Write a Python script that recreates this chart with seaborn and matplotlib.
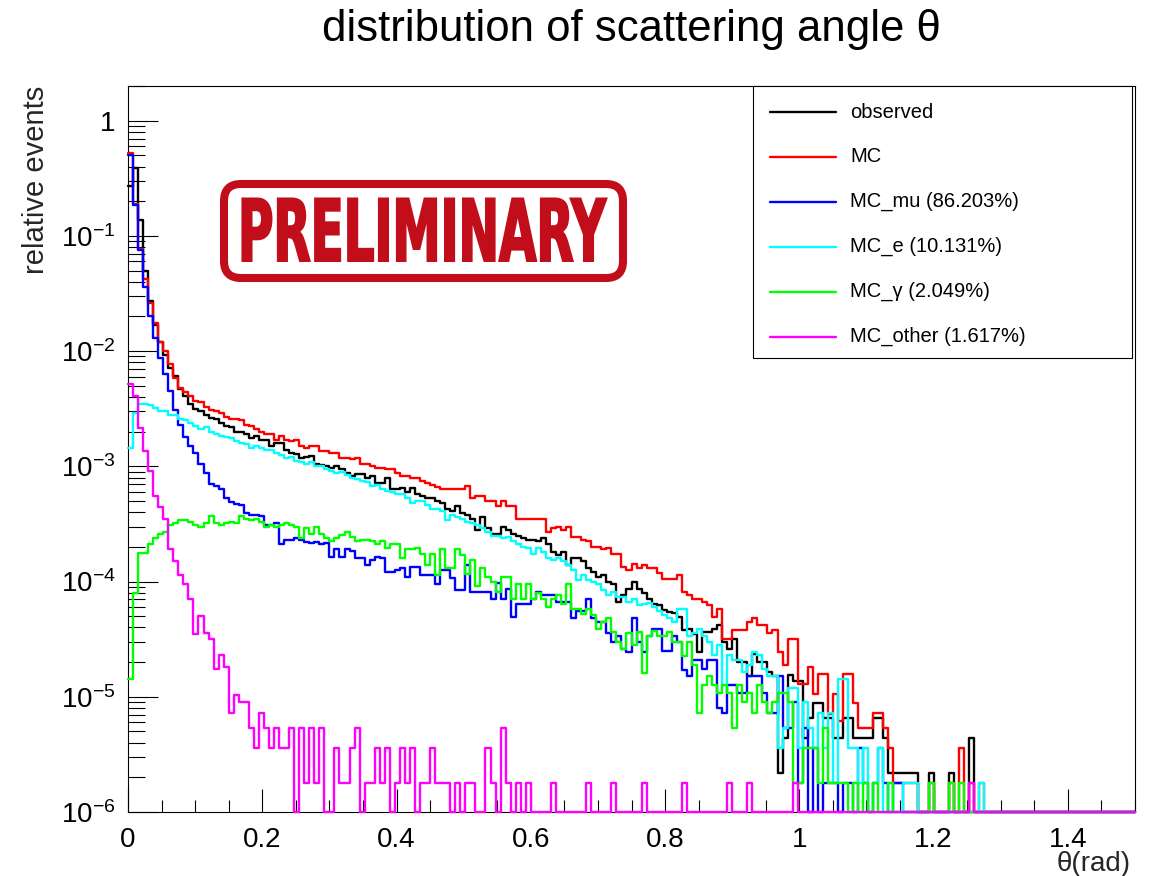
import numpy as np
import pandas as pd
import matplotlib
matplotlib.use("Agg")
import matplotlib.pyplot as plt
import seaborn as sns
from matplotlib import font_manager, ticker
from matplotlib.patches import FancyBboxPatch, Rectangle
from matplotlib.lines import Line2D
from matplotlib.transforms import IdentityTransform, Affine2D
from matplotlib.patheffects import AbstractPathEffect

# ------------------------------------------------------------------ data
theta_min, theta_max, n_bins = 0.0, 1.5, 200
title_text = "distribution of scattering angle \u03b8"
y_title = "relative events"
x_title = "\u03b8(rad)"
series_labels = ["observed", "MC", "MC_mu (86.203%)", "MC_e (10.131%)",
                 "MC_\u03b3 (2.049%)", "MC_other (1.617%)"]
x_tick_values = [0, 0.2, 0.4, 0.6, 0.8, 1.0, 1.2, 1.4]

observed = [
    0.27, 0.39, 0.137, 0.05, 0.027, 0.017, 0.012, 9.2e-3, 7.2e-3, 6.1e-3,
    4.7e-3, 4.1e-3, 3.5e-3, 3.15e-3, 3.05e-3, 2.8e-3, 2.65e-3, 2.6e-3, 2.4e-3, 2.25e-3,
    2.2e-3, 2.0e-3, 2.0e-3, 1.9e-3, 1.77e-3, 1.83e-3, 1.7e-3, 1.7e-3, 1.5e-3, 1.6e-3,
    1.6e-3, 1.4e-3, 1.3e-3, 1.27e-3, 1.18e-3, 1.2e-3, 1.23e-3, 1.05e-3, 1.03e-3, 1.0e-3,
    9.6e-4, 1.0e-3, 9.4e-4, 8.8e-4, 8.3e-4, 8.5e-4, 8.5e-4, 8.0e-4, 8.3e-4, 7.2e-4,
    7.2e-4, 8.0e-4, 6.3e-4, 6.4e-4, 6.5e-4, 6.0e-4, 6.5e-4, 5.7e-4, 5.5e-4, 5.3e-4,
    5.3e-4, 5.0e-4, 4.8e-4, 4.3e-4, 4.1e-4, 4.5e-4, 3.9e-4, 3.8e-4, 3.5e-4, 2.8e-4,
    3.6e-4, 2.9e-4, 2.6e-4, 2.6e-4, 3.0e-4, 2.8e-4, 2.6e-4, 2.5e-4, 2.4e-4, 2.3e-4,
    2.3e-4, 2.25e-4, 2.4e-4, 2.1e-4, 1.8e-4, 1.7e-4, 1.8e-4, 1.4e-4, 1.6e-4, 1.6e-4,
    1.5e-4, 1.3e-4, 1.2e-4, 1.1e-4, 1.14e-4, 1.0e-4, 9.5e-5, 6.6e-5, 7.6e-5, 8.7e-5,
    1.0e-4, 8.7e-5, 7.9e-5, 7.0e-5, 6.4e-5, 6.2e-5, 5.7e-5, 5.4e-5, 5.3e-5, 4.9e-5,
    3.8e-5, 3.9e-5, 3.5e-5, 2.45e-5, 3.65e-5, 3.65e-5, 3.9e-5, 4.2e-5, 3.0e-5, 2.6e-5,
    3.2e-5, 2.0e-5, 2.0e-5, 1.53e-5, 2.35e-5, 2.0e-5, 2.0e-5, 1.64e-5, 1.53e-5, 2.2e-6,
    4.4e-6, 1.55e-5, 1.37e-5, 1.37e-5, 4.4e-6, 6.6e-6, 8.8e-6, 8.8e-6, 6.6e-6, 6.6e-6,
    4.4e-6, 4.4e-6, 6.6e-6, 6.6e-6, 4.4e-6, 4.4e-6, 4.4e-6, 4.4e-6, 6.6e-6, 6.6e-6,
    4.4e-6, 2.2e-6, 2.2e-6, 2.2e-6, 2.2e-6, 2.2e-6, 2.2e-6, 0, 0, 2.2e-6,
    0, 0, 0, 2.2e-6, 0, 0, 0, 4.4e-6, 0, 0,
    0, 0, 0, 0, 0, 0, 0, 0, 0, 0,
    0, 0, 0, 0, 0, 0, 0, 0, 0, 0,
    0, 0, 0, 0, 0, 0, 0, 0, 0, 0,
]

mc = [
    0.52, 0.19, 0.077, 0.042, 0.026, 0.0174, 0.0119, 0.010, 7.7e-3, 5.9e-3,
    4.8e-3, 4.4e-3, 4.1e-3, 3.7e-3, 3.6e-3, 3.3e-3, 3.1e-3, 3.0e-3, 2.9e-3, 2.7e-3,
    2.6e-3, 2.6e-3, 2.5e-3, 2.3e-3, 2.24e-3, 2.1e-3, 2.0e-3, 1.9e-3, 1.9e-3, 1.7e-3,
    1.85e-3, 1.7e-3, 1.65e-3, 1.7e-3, 1.5e-3, 1.45e-3, 1.5e-3, 1.5e-3, 1.36e-3, 1.36e-3,
    1.31e-3, 1.31e-3, 1.18e-3, 1.18e-3, 1.15e-3, 1.18e-3, 1.05e-3, 1.05e-3, 1.0e-3, 9.6e-4,
    9.6e-4, 9.4e-4, 9.4e-4, 8.8e-4, 8.3e-4, 8.3e-4, 8.0e-4, 7.9e-4, 7.4e-4, 7.2e-4,
    6.9e-4, 6.6e-4, 6.3e-4, 6.3e-4, 6.4e-4, 6.3e-4, 6.3e-4, 6.8e-4, 5.3e-4, 5.5e-4,
    5.5e-4, 5.0e-4, 5.0e-4, 4.5e-4, 5.0e-4, 4.5e-4, 4.5e-4, 3.5e-4, 3.5e-4, 3.5e-4,
    3.5e-4, 3.5e-4, 3.5e-4, 2.7e-4, 2.9e-4, 3.0e-4, 2.8e-4, 3.0e-4, 2.45e-4, 2.45e-4,
    2.3e-4, 2.25e-4, 2.0e-4, 2.0e-4, 1.9e-4, 1.95e-4, 1.75e-4, 1.75e-4, 1.35e-4, 1.26e-4,
    1.43e-4, 1.3e-4, 1.4e-4, 1.3e-4, 1.3e-4, 1.18e-4, 1.05e-4, 1.05e-4, 1.05e-4, 1.14e-4,
    8.1e-5, 7.6e-5, 7.1e-5, 7.1e-5, 6.7e-5, 6.2e-5, 4.9e-5, 5.8e-5, 3.2e-5, 3.2e-5,
    3.8e-5, 3.8e-5, 3.8e-5, 4.5e-5, 4.8e-5, 4.2e-5, 4.2e-5, 3.55e-5, 3.8e-5, 2.45e-5,
    1.87e-5, 3.2e-5, 3.2e-5, 1.3e-5, 1.3e-5, 1.83e-5, 1.06e-5, 1.58e-5, 1.58e-5, 7.1e-6,
    1.06e-5, 6.2e-6, 1.58e-5, 1.58e-5, 8.9e-6, 5.4e-6, 5.4e-6, 5.4e-6, 7.2e-6, 7.2e-6,
    5.4e-6, 3.6e-6, 1.8e-6, 1.8e-6, 1.8e-6, 1.8e-6, 1.8e-6, 0, 0, 1.8e-6,
    0, 0, 0, 1.8e-6, 0, 3.6e-6, 0, 1.8e-6, 0, 1.8e-6,
    0, 0, 0, 0, 0, 0, 0, 0, 0, 0,
    0, 0, 0, 0, 0, 0, 0, 0, 0, 0,
    0, 0, 0, 0, 0, 0, 0, 0, 0, 0,
]

mc_mu = [
    0.50, 0.185, 0.075, 0.036, 0.020, 0.013, 8.8e-3, 6.3e-3, 4.5e-3, 3.1e-3,
    2.3e-3, 1.8e-3, 1.5e-3, 1.3e-3, 1.05e-3, 8.7e-4, 7.0e-4, 6.8e-4, 6.4e-4, 5.3e-4,
    4.9e-4, 4.7e-4, 4.6e-4, 3.9e-4, 3.8e-4, 3.8e-4, 3.7e-4, 3.1e-4, 3.1e-4, 3.2e-4,
    2.1e-4, 2.3e-4, 2.3e-4, 2.4e-4, 2.3e-4, 2.2e-4, 2.15e-4, 2.2e-4, 2.1e-4, 2.15e-4,
    1.65e-4, 1.9e-4, 1.65e-4, 1.9e-4, 1.85e-4, 1.6e-4, 1.6e-4, 1.4e-4, 1.55e-4, 1.65e-4,
    1.6e-4, 1.2e-4, 1.2e-4, 1.25e-4, 1.3e-4, 1.1e-4, 1.35e-4, 1.35e-4, 1.14e-4, 1.14e-4,
    1.14e-4, 9.6e-5, 1.26e-4, 1.26e-4, 1.07e-4, 8.4e-5, 8.4e-5, 1.4e-4, 8.1e-5, 8.1e-5,
    8.1e-5, 8.1e-5, 7.1e-5, 9.8e-5, 7.1e-5, 8.7e-5, 4.9e-5, 6.4e-5, 6.4e-5, 6.4e-5,
    7.1e-5, 8.1e-5, 7.6e-5, 7.6e-5, 7.6e-5, 6.6e-5, 6.6e-5, 6.6e-5, 4.8e-5, 5.5e-5,
    5.5e-5, 7.1e-5, 4.8e-5, 4.5e-5, 4.5e-5, 3.6e-5, 3.0e-5, 3.4e-5, 2.6e-5, 2.45e-5,
    4.8e-5, 3.0e-5, 2.45e-5, 3.4e-5, 3.9e-5, 3.9e-5, 2.5e-5, 2.5e-5, 3.4e-5, 3.0e-5,
    1.7e-5, 1.53e-5, 2.1e-5, 2.1e-5, 1.74e-5, 2.1e-5, 2.1e-5, 8.0e-6, 7.2e-6, 1.26e-5,
    1.26e-5, 1.08e-5, 1.08e-5, 1.53e-5, 1.53e-5, 1.53e-5, 1.08e-5, 7.2e-6, 7.2e-6, 1.53e-5,
    5.4e-6, 5.4e-6, 9.0e-6, 1.8e-6, 5.4e-6, 0, 3.6e-6, 0, 1.8e-6, 1.8e-6,
    1.8e-6, 0, 1.8e-6, 1.8e-6, 0, 3.6e-6, 1.8e-6, 0, 1.8e-6, 3.6e-6,
    1.8e-6, 0, 1.8e-6, 1.8e-6, 0, 0, 0, 0, 0, 0,
    0, 0, 0, 0, 0, 0, 0, 0, 0, 0,
    0, 0, 0, 0, 0, 0, 0, 0, 0, 0,
    0, 0, 0, 0, 0, 0, 0, 0, 0, 0,
    0, 0, 0, 0, 0, 0, 0, 0, 0, 0,
]

mc_e = [
    1.45e-3, 2.9e-3, 3.5e-3, 3.5e-3, 3.4e-3, 3.2e-3, 3.0e-3, 3.0e-3, 2.8e-3, 2.8e-3,
    2.6e-3, 2.5e-3, 2.4e-3, 2.25e-3, 2.1e-3, 2.2e-3, 2.0e-3, 1.9e-3, 1.85e-3, 1.8e-3,
    1.75e-3, 1.65e-3, 1.6e-3, 1.55e-3, 1.45e-3, 1.5e-3, 1.45e-3, 1.4e-3, 1.38e-3, 1.3e-3,
    1.25e-3, 1.18e-3, 1.2e-3, 1.12e-3, 1.1e-3, 1.05e-3, 1.08e-3, 1.0e-3, 1.0e-3, 9.5e-4,
    9.2e-4, 8.8e-4, 8.9e-4, 8.4e-4, 8.0e-4, 7.8e-4, 7.5e-4, 7.3e-4, 6.8e-4, 6.9e-4,
    6.4e-4, 6.1e-4, 6.0e-4, 5.7e-4, 5.7e-4, 5.3e-4, 4.8e-4, 5.0e-4, 5.0e-4, 4.65e-4,
    4.3e-4, 4.3e-4, 4.1e-4, 3.4e-4, 3.8e-4, 3.6e-4, 3.5e-4, 3.3e-4, 3.2e-4, 3.1e-4,
    2.9e-4, 2.7e-4, 2.5e-4, 2.5e-4, 2.4e-4, 2.45e-4, 2.25e-4, 2.1e-4, 2.0e-4, 1.95e-4,
    1.75e-4, 1.95e-4, 1.8e-4, 1.6e-4, 1.55e-4, 1.6e-4, 1.5e-4, 1.4e-4, 1.26e-4, 1.04e-4,
    1.14e-4, 1.04e-4, 1.0e-4, 9.5e-5, 8.4e-5, 7.6e-5, 8.1e-5, 7.4e-5, 7.4e-5, 6.6e-5,
    7.1e-5, 6.3e-5, 6.4e-5, 6.5e-5, 6.0e-5, 5.6e-5, 5.1e-5, 4.8e-5, 4.5e-5, 5.8e-5,
    5.8e-5, 3.4e-5, 3.6e-5, 3.9e-5, 3.4e-5, 3.0e-5, 2.3e-5, 2.8e-5, 1.26e-5, 2.3e-5,
    2.1e-5, 2.1e-5, 1.64e-5, 1.87e-5, 2.45e-5, 2.3e-5, 1.74e-5, 1.53e-5, 1.53e-5, 3.6e-6,
    5.4e-6, 1.2e-5, 1.2e-5, 3.6e-6, 9.0e-6, 5.4e-6, 3.6e-6, 7.2e-6, 3.6e-6, 7.2e-6,
    1.8e-6, 1.44e-5, 1.44e-5, 3.6e-6, 3.6e-6, 1.8e-6, 3.6e-6, 0, 1.8e-6, 3.6e-6,
    0, 1.8e-6, 0, 0, 1.8e-6, 1.8e-6, 1.8e-6, 0, 0, 0,
    0, 0, 0, 0, 0, 0, 0, 0, 0, 1.8e-6,
    0, 0, 0, 0, 0, 0, 0, 0, 0, 0,
    0, 0, 0, 0, 0, 0, 0, 0, 0, 0,
    0, 0, 0, 0, 0, 0, 0, 0, 0, 0,
]

mc_gamma = [
    1.43e-5, 7.9e-5, 1.76e-4, 1.76e-4, 2.1e-4, 2.4e-4, 2.6e-4, 2.7e-4, 3.1e-4, 3.2e-4,
    3.4e-4, 3.4e-4, 3.3e-4, 3.1e-4, 3.0e-4, 3.2e-4, 3.7e-4, 3.2e-4, 3.1e-4, 3.2e-4,
    3.3e-4, 3.2e-4, 3.7e-4, 3.5e-4, 3.4e-4, 3.5e-4, 3.3e-4, 3.0e-4, 3.1e-4, 3.0e-4,
    3.1e-4, 3.2e-4, 3.1e-4, 3.0e-4, 2.4e-4, 2.9e-4, 2.6e-4, 3.0e-4, 2.6e-4, 2.4e-4,
    2.25e-4, 2.4e-4, 2.55e-4, 2.7e-4, 2.45e-4, 2.25e-4, 2.3e-4, 2.3e-4, 2.25e-4, 2.1e-4,
    2.25e-4, 1.95e-4, 2.1e-4, 2.1e-4, 1.6e-4, 1.9e-4, 1.9e-4, 1.95e-4, 1.75e-4, 1.4e-4,
    1.75e-4, 1.14e-4, 1.9e-4, 1.3e-4, 1.3e-4, 1.9e-4, 1.7e-4, 1.17e-4, 1.55e-4, 9.2e-5,
    1.3e-4, 1.1e-4, 1.0e-4, 8.1e-5, 1.1e-4, 1.1e-4, 7.1e-5, 9.6e-5, 7.1e-5, 9.6e-5,
    7.1e-5, 7.9e-5, 7.1e-5, 6.0e-5, 7.1e-5, 7.6e-5, 6.4e-5, 9.6e-5, 5.8e-5, 5.8e-5,
    5.2e-5, 5.8e-5, 5.1e-5, 3.9e-5, 4.5e-5, 4.8e-5, 3.65e-5, 3.0e-5, 2.6e-5, 3.6e-5,
    2.8e-5, 3.65e-5, 1.6e-5, 3.4e-5, 3.75e-5, 3.4e-5, 3.4e-5, 3.65e-5, 3.0e-5, 3.0e-5,
    2.25e-5, 3.0e-5, 1.9e-5, 7.2e-6, 1.26e-5, 1.53e-5, 1.26e-5, 1.08e-5, 1.26e-5, 1.08e-5,
    5.4e-6, 1.26e-5, 9.0e-6, 1.08e-5, 7.2e-6, 1.26e-5, 9.0e-6, 7.2e-6, 9.0e-6, 1.08e-5,
    1.08e-5, 9.0e-6, 1.8e-6, 1.8e-6, 3.6e-6, 3.6e-6, 3.6e-6, 1.8e-6, 5.4e-6, 1.8e-6,
    1.8e-6, 1.8e-6, 1.8e-6, 0, 1.8e-6, 0, 1.8e-6, 0, 1.8e-6, 0,
    0, 1.8e-6, 0, 0, 0, 0, 0, 0, 0, 1.8e-6,
    0, 0, 0, 1.8e-6, 0, 1.8e-6, 0, 0, 0, 0,
    0, 0, 0, 0, 0, 0, 0, 0, 0, 0,
    0, 0, 0, 0, 0, 0, 0, 0, 0, 0,
    0, 0, 0, 0, 0, 0, 0, 0, 0, 0,
]

mc_other = [
    5.2e-3, 4.1e-3, 2.15e-3, 1.35e-3, 9.1e-4, 5.5e-4, 4.4e-4, 3.5e-4, 1.9e-4, 1.5e-4,
    1.15e-4, 9.5e-5, 7.1e-5, 3.5e-5, 5.0e-5, 3.6e-5, 3.2e-5, 1.75e-5, 2.3e-5, 1.8e-5,
    7.2e-6, 1.04e-5, 9.0e-6, 9.0e-6, 5.4e-6, 3.6e-6, 7.2e-6, 5.4e-6, 3.6e-6, 5.4e-6,
    3.6e-6, 3.6e-6, 5.4e-6, 0, 5.4e-6, 1.8e-6, 5.4e-6, 1.8e-6, 5.4e-6, 0,
    0, 3.6e-6, 1.8e-6, 1.8e-6, 3.6e-6, 5.4e-6, 0, 1.8e-6, 1.8e-6, 3.6e-6,
    1.8e-6, 3.6e-6, 0, 1.8e-6, 3.6e-6, 1.8e-6, 3.6e-6, 0, 1.8e-6, 1.8e-6,
    3.6e-6, 1.8e-6, 1.8e-6, 1.8e-6, 0, 1.8e-6, 0, 1.8e-6, 1.8e-6, 0,
    0, 3.6e-6, 1.8e-6, 0, 5.4e-6, 1.8e-6, 0, 1.8e-6, 0, 1.8e-6,
    0, 0, 0, 0, 1.8e-6, 0, 0, 0, 0, 0,
    0, 1.8e-6, 0, 0, 0, 0, 1.8e-6, 0, 0, 0,
    0, 0, 1.8e-6, 0, 0, 0, 0, 0, 0, 0,
    1.8e-6, 0, 0, 0, 0, 0, 0, 0, 0, 1.8e-6,
    0, 0, 0, 1.8e-6, 0, 0, 0, 0, 0, 0,
    0, 0, 1.8e-6, 0, 0, 0, 0, 0, 0, 0,
    0, 0, 0, 0, 0, 0, 0, 0, 0, 0,
    0, 0, 0, 0, 0, 0, 0, 0, 0, 0,
    0, 0, 0, 0, 0, 0, 0, 1.8e-6, 0, 0,
    0, 0, 0, 0, 0, 0, 0, 0, 0, 0,
    0, 0, 0, 0, 0, 0, 0, 0, 0, 0,
    0, 0, 0, 0, 0, 0, 0, 0, 0, 0,
]

# ------------------------------------------------------------------ style
W, H = 1158, 876
AX_L, AX_R, AX_T, AX_B = 128, 1135, 86, 812          # frame in pixels
Y_MIN, Y_MAX = 1e-6, 2.0
COLORS = ["#000000", "#ff0000", "#0000ff", "#00ffff", "#00ff00", "#ff00ff"]
STAMP = "#c20e1a"
HIST_LW = 1.7

sns.set_theme(style="white")
plt.rcParams["font.family"] = ["Liberation Sans", "DejaVu Sans"]
plt.rcParams["mathtext.fontset"] = "custom"
plt.rcParams["mathtext.rm"] = "Liberation Sans"
plt.rcParams["mathtext.it"] = "Liberation Sans:italic"
plt.rcParams["mathtext.bf"] = "Liberation Sans:bold"

fig = plt.figure(figsize=(W / 100, H / 100), dpi=100, facecolor="white")
ax = fig.add_axes([AX_L / W, 1 - AX_B / H, (AX_R - AX_L) / W, (AX_B - AX_T) / H])
ax.set_facecolor("white")

edges = np.linspace(theta_min, theta_max, n_bins + 1)
centers = 0.5 * (edges[:-1] + edges[1:])
all_series = [observed, mc, mc_mu, mc_e, mc_gamma, mc_other]
for vals, color in zip(all_series, COLORS):
    assert len(vals) == n_bins
    # ROOT draws empty bins on the floor of the frame
    shown = np.maximum(np.asarray(vals, dtype=float), Y_MIN)
    df = pd.DataFrame({"theta": centers, "w": shown})
    sns.histplot(data=df, x="theta", weights="w", bins=n_bins,
                 binrange=(theta_min, theta_max), element="step",
                 fill=False, color=color, linewidth=HIST_LW, ax=ax)
    ln = ax.lines[-1]
    ln.set_clip_on(False)
    ln.set_zorder(4)

ax.set_yscale("log")
ax.set_xlim(theta_min, theta_max)
ax.set_ylim(Y_MIN, Y_MAX)

for sp in ax.spines.values():
    sp.set_visible(True)
    sp.set_color("black")
    sp.set_linewidth(0.8)

ax.yaxis.set_major_locator(ticker.LogLocator(base=10, numticks=20))
ax.yaxis.set_minor_locator(ticker.LogLocator(base=10, subs=np.arange(2, 10), numticks=20))
ax.yaxis.set_major_formatter(ticker.FuncFormatter(
    lambda v, p: "1" if abs(np.log10(v)) < 1e-9 else r"$\mathregular{10^{%d}}$" % int(round(np.log10(v)))))
ax.yaxis.set_minor_formatter(ticker.NullFormatter())
ax.xaxis.set_major_locator(ticker.FixedLocator(x_tick_values))
ax.xaxis.set_minor_locator(ticker.MultipleLocator(0.05))
ax.xaxis.set_major_formatter(ticker.FuncFormatter(lambda v, p: f"{v:g}"))

ax.tick_params(axis="both", which="both", direction="in", left=True, bottom=True,
               top=False, right=False, colors="black", width=0.8)
ax.tick_params(axis="y", which="major", length=21.5, labelsize=20, pad=9)
ax.tick_params(axis="y", which="minor", length=12)
ax.tick_params(axis="x", which="major", length=16.5, labelsize=20, pad=11)
ax.tick_params(axis="x", which="minor", length=8.5)

ax.set_ylabel(y_title, fontsize=21, loc="top")
ax.yaxis.set_label_coords((50 - AX_L) / (AX_R - AX_L), 1.0)
ax.set_xlabel(x_title, fontsize=20, loc="right")
ax.xaxis.set_label_coords((1131 - AX_L) / (AX_R - AX_L), -(851 - AX_B) / (AX_B - AX_T))

# title
fig.text(631, H - 41, title_text, transform=IdentityTransform(),
         ha="center", va="baseline", fontsize=31.5, color="black")

# legend box (ROOT TLegend look)
fig.add_artist(Rectangle((753, H - 358), 1132 - 753, 358 - 86, transform=IdentityTransform(),
                         facecolor="white", edgecolor="black", linewidth=0.8, zorder=8))
for i, (lab, col) in enumerate(zip(series_labels, COLORS)):
    yy = H - (112 + 44.9 * i)
    fig.add_artist(Line2D([770, 836], [yy, yy], transform=IdentityTransform(),
                          color=col, linewidth=HIST_LW, zorder=9))
    fig.text(850, yy, lab, transform=IdentityTransform(), ha="left", va="center",
             fontsize=14.5, color="black", zorder=9)

# PRELIMINARY stamp
fig.add_artist(FancyBboxPatch((224, H - 278), 399, 94,
                              boxstyle="round,pad=0,rounding_size=17",
                              transform=IdentityTransform(), facecolor="white",
                              edgecolor=STAMP, linewidth=5.8, zorder=6))


class CondensedInk(AbstractPathEffect):
    """Draw glyphs squeezed horizontally and slightly emboldened."""

    def __init__(self, sx=1.0, stroke_px=0.0):
        super().__init__()
        self.sx = sx
        self.stroke_px = stroke_px

    def draw_path(self, renderer, gc, tpath, affine, rgbFace=None):
        gc0 = renderer.new_gc()
        gc0.copy_properties(gc)
        gc0.set_linewidth(self.stroke_px * 72.0 / 100.0)
        gc0.set_foreground(rgbFace)
        gc0.set_joinstyle("miter")
        renderer.draw_path(gc0, tpath, Affine2D().scale(self.sx, 1.0) + affine, rgbFace)
        gc0.restore()


names = {f.name for f in font_manager.fontManager.ttflist}
stamp_family = "Liberation Sans Narrow" if "Liberation Sans Narrow" in names else "DejaVu Sans"
stroke = 2.0
cap_target = 64.5 - stroke
cap_ratio = 0.716 if stamp_family.startswith("Liberation") else 0.729
stamp_size_pt = cap_target / cap_ratio * 72.0 / 100.0
stamp_text = fig.text(237 + stroke / 2, H - 262 + stroke / 2, "PRELIMINARY",
                      transform=IdentityTransform(), ha="left", va="baseline",
                      fontsize=stamp_size_pt, fontweight="bold", family=stamp_family,
                      color=STAMP, zorder=7)
fig.canvas.draw()
natural_w = stamp_text.get_window_extent(renderer=fig.canvas.get_renderer()).width
stamp_text.set_path_effects([CondensedInk(sx=(370 - stroke) / natural_w, stroke_px=stroke)])

fig.savefig("out.png", dpi=100, facecolor="white")
